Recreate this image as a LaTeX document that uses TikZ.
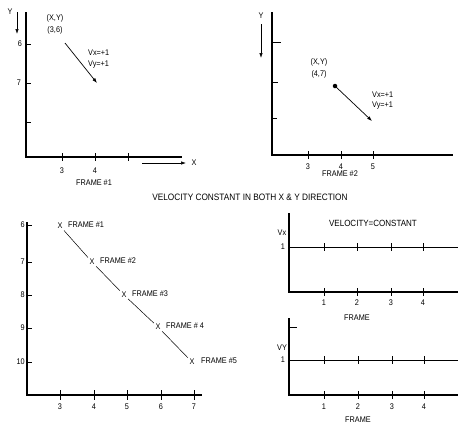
\documentclass[tikz,border=0pt]{standalone}
\usepackage{fontspec}
\setmainfont{Liberation Sans}[FakeStretch=0.89]
\usetikzlibrary{arrows.meta}
\begin{document}
\begin{tikzpicture}[x=1pt,y=-1pt,
  axis/.style={line width=1.3pt},
  tickmark/.style={line width=0.8pt},
  lbl/.style={font=\fontsize{8.2}{9}\selectfont, inner sep=0pt},
  ttl/.style={font=\fontsize{9.3}{10}\selectfont, inner sep=0pt},
  arr/.style={line width=0.7pt,-{Latex[length=5pt,width=3.5pt]}},
  thinline/.style={line width=0.5pt},
  xmarker/.style={font=\fontsize{8.2}{9}\selectfont, inner sep=1.5pt}]
\useasboundingbox (0,0) rectangle (474,429);

% ---------- Panel 1 ----------
\draw[axis] (26,12) -- (26,157) -- (182,157);
\foreach \x in {62,95,128} \draw[tickmark] (\x,153) -- (\x,161);
\foreach \y in {44,83,122} \draw[tickmark] (26,\y) -- (31,\y);
\node[lbl] (a3) at (62,171) {3};
\node[lbl] (a4) at (95,171) {4};
\node[lbl] (a6) at (20,44) {6};
\node[lbl] (a7) at (19,83) {7};
\node[lbl] (ay) at (10,12) {Y};
\coordinate (ya1) at (17,12);
\coordinate (ya2) at (17,34);
\draw[arr] (ya1) -- (ya2);
\node[lbl] (axy) at (55,18) {(X,Y)};
\node[lbl] (a36) at (55,30) {(3,6)};
\coordinate (v1s) at (65,43);
\coordinate (v1e) at (97,83);
\draw[arr] (v1s) -- (v1e);
\node[lbl,anchor=west] (avx) at (88,53) {Vx=+1};
\node[lbl,anchor=west] (avy) at (88,65) {Vy=+1};
\coordinate (xa1) at (142,163);
\coordinate (xa2) at (186,163);
\draw[arr] (xa1) -- (xa2);
\node[lbl] (ax) at (194,163) {X};
\node[lbl] (af1) at (94,183) {FRAME \#1};

% ---------- Panel 2 ----------
\draw[axis] (272,12) -- (272,155) -- (453,155);
\foreach \x in {308,341,373} \draw[tickmark] (\x,151) -- (\x,159);
\draw[tickmark] (272,42) -- (281,42);
\draw[tickmark] (272,82) -- (278,82);
\draw[tickmark] (272,118) -- (277,118);
\node[lbl] (b3) at (308,167) {3};
\node[lbl] (b4) at (341,167) {4};
\node[lbl] (b5) at (373,167) {5};
\node[lbl] (by) at (261,16) {Y};
\coordinate (yb1) at (261,24);
\coordinate (yb2) at (261,58);
\draw[arr] (yb1) -- (yb2);
\node[lbl] (bxy) at (319,62) {(X,Y)};
\node[lbl] (b47) at (319,74) {(4,7)};
\node[circle,fill,inner sep=0pt,minimum size=4.5pt] (dot) at (335,86) {};
\coordinate (v2e) at (372,121);
\draw[arr] (dot.center) -- (v2e);
\node[lbl,anchor=west] (bvx) at (372,95) {Vx=+1};
\node[lbl,anchor=west] (bvy) at (372,106) {Vy=+1};
\node[lbl] (bf2) at (340,174) {FRAME \#2};

% ---------- Title ----------
\node[ttl] (title) at (250,197) {VELOCITY CONSTANT IN BOTH X \& Y DIRECTION};

% ---------- Panel 3 ----------
\draw[axis] (27,222) -- (27,395) -- (202,395);
\foreach \x/\t in {60/3,94/4,127/5,161/6,194/7} {
  \draw[tickmark] (\x,390) -- (\x,400);
  \node[lbl] at (\x,407) {\t};
}
\foreach \y/\t in {225/6,262/7,295/8,328/9,362/10} {
  \draw[tickmark] (27,\y) -- (32,\y);
  \node[lbl,anchor=east] at (25,\y) {\t};
}
\node[xmarker] (p1) at (60,226) {X};
\node[xmarker] (p2) at (92,262) {X};
\node[xmarker] (p3) at (124,295) {X};
\node[xmarker] (p4) at (158,327) {X};
\node[xmarker] (p5) at (192,362) {X};
\node[lbl,anchor=west] (f1) at (68,225) {FRAME \#1};
\node[lbl,anchor=west] (f2) at (100,261) {FRAME \#2};
\node[lbl,anchor=west] (f3) at (132,294) {FRAME \#3};
\node[lbl,anchor=west] (f4) at (166,326) {FRAME \# 4};
\node[lbl,anchor=west] (f5) at (201,361) {FRAME \#5};
\draw[thinline] (p1) -- (p2);
\draw[thinline] (p2) -- (p3);
\draw[thinline] (p3) -- (p4);
\draw[thinline] (p4) -- (p5);

% ---------- Panel 4 ----------
\draw[axis] (289,213) -- (289,292) -- (458,292);
\draw[tickmark] (289,247) -- (458,247);
\foreach \x/\t in {324/1,357/2,391/3,423/4} {
  \draw[tickmark] (\x,243) -- (\x,251);
  \draw[tickmark] (\x,288) -- (\x,296);
  \node[lbl] at (\x,303) {\t};
}
\node[lbl] (cf) at (357,318) {FRAME};
\node[lbl,font=\fontsize{9}{10}\selectfont] (vc) at (373,223) {VELOCITY=CONSTANT};
\node[lbl] (cvx) at (282,233) {Vx};
\node[lbl] (c1) at (283,247) {1};

% ---------- Panel 5 ----------
\draw[axis] (289,318) -- (289,395) -- (458,395);
\draw[tickmark] (289,327) -- (297,327);
\draw[tickmark] (289,360) -- (458,360);
\foreach \x/\t in {324/1,358/2,392/3,424/4} {
  \draw[tickmark] (\x,356) -- (\x,364);
  \draw[tickmark] (\x,391) -- (\x,399);
  \node[lbl] at (\x,407) {\t};
}
\node[lbl] (df) at (358,420) {FRAME};
\node[lbl] (dvy) at (282,348) {VY};
\node[lbl] (d1) at (283,360) {1};
\end{tikzpicture}
\end{document}
